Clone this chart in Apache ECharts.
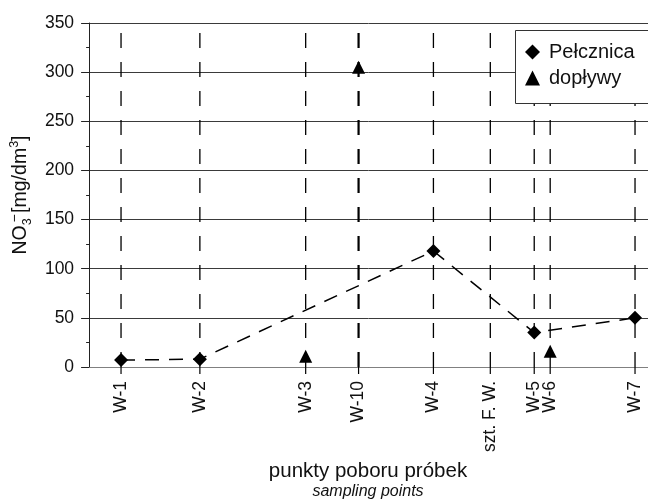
<!DOCTYPE html>
<html>
<head>
<meta charset="utf-8">
<script src="https://cdn.jsdelivr.net/npm/echarts@6/dist/echarts.min.js"></script>
<style>
  html, body { margin: 0; padding: 0; background: #fff; }
  #chart { width: 648px; height: 502px; }
</style>
</head>
<body>
<div id="chart"></div>
<script>
// Sampling points along the stream (position along the x axis)
const stations = ['W-1', 'W-2', 'W-3', 'W-10', 'W-4', 'szt. F. W.', 'W-5', 'W-6', 'W-7'];
const stationPos = [32, 111, 217, 270, 345, 402, 446, 462, 547];

// Nitrate concentrations, mg/dm3
const pelcznicaStations = ['W-1', 'W-2', 'W-4', 'W-5', 'W-7'];
const pelcznicaValues = [7, 8, 118, 35, 50];
const doplywyStations = ['W-3', 'W-10', 'W-6'];
const doplywyValues = [11, 305, 16];

// Value-axis ticks
const yMin = 0, yMax = 350, yStep = 50;

const FONT = '"Liberation Sans", Arial, sans-serif';
const posOf = name => stationPos[stations.indexOf(name)];

const chart = echarts.init(document.getElementById('chart'), null, { renderer: 'canvas' });

chart.setOption({
  animation: false,
  backgroundColor: '#fff',
  grid: { left: 88, right: 0, top: 23, bottom: 135 },
  xAxis: {
    type: 'value', min: 0, max: 560,
    axisLine: { show: true, lineStyle: { color: '#808080', width: 1 } },
    axisTick: { show: false },
    axisLabel: { show: false },
    splitLine: { show: false }
  },
  yAxis: {
    type: 'value', min: yMin, max: yMax, interval: yStep,
    name: 'NO{sub|3}{sup|−} [mg/dm{sup3|3}]',
    nameLocation: 'middle',
    nameRotate: 90,
    nameGap: 50,
    nameTextStyle: {
      fontFamily: FONT, fontSize: 19.5, color: '#111', lineHeight: 26,
      rich: {
        sub: { fontFamily: FONT, fontSize: 12.5, lineHeight: 13, verticalAlign: 'bottom', color: '#111' },
        sup: { fontFamily: FONT, fontSize: 14, lineHeight: 13, verticalAlign: 'top', width: 0, align: 'right', color: '#111' },
        sup3: { fontFamily: FONT, fontSize: 12.5, lineHeight: 13, verticalAlign: 'top', color: '#111' }
      }
    },
    axisLine: { show: true, lineStyle: { color: '#222', width: 1 } },
    axisTick: { show: true, inside: false, length: 8, lineStyle: { color: '#222' } },
    minorTick: { show: true, splitNumber: 2, length: 3, lineStyle: { color: '#222' } },
    axisLabel: { fontFamily: FONT, fontSize: 17.5, color: '#111', margin: 15 },
    splitLine: { show: true, lineStyle: { color: '#3a3a3a', width: 1 } }
  },
  legend: {
    orient: 'vertical',
    left: 515, top: 30,
    padding: [12, 10, 15, 10],
    itemWidth: 15, itemHeight: 15, itemGap: 6,
    z: 10,
    textStyle: { fontFamily: FONT, fontSize: 20, color: '#111', lineHeight: 20, padding: [0, 0, 0, 4] },
    data: [
      { name: 'Pełcznica', icon: 'diamond' },
      { name: 'dopływy', icon: 'triangle' }
    ]
  },
  graphic: [
    {
      // legend frame, running off the right edge
      type: 'rect', z: 9,
      shape: { x: 515.5, y: 30.5, width: 150, height: 73 },
      style: { fill: '#fff', stroke: '#333', lineWidth: 1 }
    },
    {
      type: 'text', x: 368, y: 471,
      style: { text: 'punkty poboru próbek', align: 'center', verticalAlign: 'middle', fontFamily: FONT, fontSize: 20.5, fill: '#111' }
    },
    {
      type: 'text', x: 368, y: 492,
      style: { text: 'sampling points', align: 'center', verticalAlign: 'middle', fontFamily: FONT, fontSize: 16, fontStyle: 'italic', fill: '#111' }
    }
  ],
  series: [
    {
      // vertical dashed guides, ticks and rotated labels for each sampling point
      type: 'custom',
      name: 'stations',
      clip: false,
      silent: true,
      z: 1,
      encode: { x: 0, y: 1 },
      data: stationPos.map(p => [p, 0]),
      renderItem: function (params, api) {
        const x = api.value(0);
        const bottom = api.coord([x, yMin]);
        const top = api.coord([x, yMax]);
        const label = stations[params.dataIndex];
        const w = label === 'W-10' ? 2.2 : 1.3;
        return {
          type: 'group',
          children: [
            {
              type: 'line',
              shape: { x1: bottom[0], y1: bottom[1], x2: top[0], y2: top[1] },
              style: { stroke: '#000', lineWidth: w, lineDash: [15, 14] }
            },
            {
              type: 'line',
              shape: { x1: bottom[0], y1: bottom[1], x2: bottom[0], y2: bottom[1] + 7 },
              style: { stroke: '#000', lineWidth: 1.2 }
            },
            {
              type: 'text',
              x: bottom[0], y: bottom[1] + 14,
              rotation: Math.PI / 2,
              style: {
                text: label, x: 0, y: 0,
                align: 'right', verticalAlign: 'middle',
                fontFamily: FONT, fontSize: 17.5, fill: '#111'
              }
            }
          ]
        };
      }
    },
    {
      name: 'Pełcznica',
      type: 'line',
      z: 3,
      data: pelcznicaStations.map((s, i) => [posOf(s), pelcznicaValues[i]]),
      symbol: 'diamond',
      symbolSize: 14,
      itemStyle: { color: '#000', opacity: 1 },
      lineStyle: { color: '#000', width: 1.5, type: [14, 10] }
    },
    {
      name: 'dopływy',
      type: 'scatter',
      z: 3,
      data: doplywyStations.map((s, i) => [posOf(s), doplywyValues[i]]),
      symbol: 'triangle',
      symbolSize: [13, 13],
      itemStyle: { color: '#000', opacity: 1 }
    }
  ]
});
</script>
</body>
</html>
